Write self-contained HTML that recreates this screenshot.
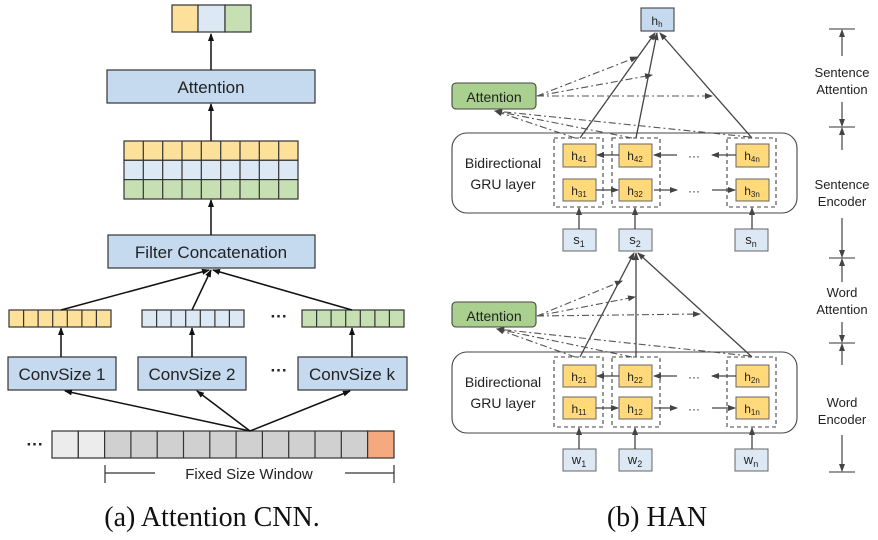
<!DOCTYPE html>
<html><head><meta charset="utf-8"><style>
html,body{margin:0;padding:0;background:#fff;}
svg{display:block;}
text{font-family:"Liberation Sans",sans-serif;fill:#222;}
.cap{font-family:"Liberation Serif",serif;font-size:28px;fill:#111;}
</style></head><body>
<svg width="878" height="540" viewBox="0 0 878 540" xmlns="http://www.w3.org/2000/svg">
<defs>
<marker id="a" markerWidth="8" markerHeight="8" refX="7" refY="4" orient="auto" markerUnits="userSpaceOnUse"><path d="M0,1 L8,4 L0,7 z" fill="#111"/></marker>
<marker id="g" markerWidth="8" markerHeight="8" refX="7" refY="4" orient="auto" markerUnits="userSpaceOnUse"><path d="M0,1 L8,4 L0,7 z" fill="#444"/></marker>
</defs>
<g stroke="#333" stroke-width="1.2">
<rect x="172" y="5" width="26" height="27" fill="#fde09a"/>
<rect x="198" y="5" width="27" height="27" fill="#dde8f5"/>
<rect x="225" y="5" width="26" height="27" fill="#c6e0b4"/>
<rect x="107" y="70" width="208" height="33" fill="#c5d9ef"/>
<rect x="124" y="141" width="174" height="19.3" fill="#fde09a"/>
<rect x="124" y="160.3" width="174" height="19.3" fill="#dde8f5"/>
<rect x="124" y="179.6" width="174" height="19.4" fill="#c6e0b4"/>
<path d="M143.3,141V199M162.7,141V199M182,141V199M201.3,141V199M220.7,141V199M240,141V199M259.3,141V199M278.7,141V199" fill="none"/>
<rect x="108" y="235" width="207" height="33" fill="#c5d9ef"/>
<rect x="9" y="310" width="102" height="17" fill="#fde09a"/>
<rect x="142" y="310" width="102" height="17" fill="#dde8f5"/>
<rect x="302" y="310" width="102" height="17" fill="#c6e0b4"/>
<path d="M23.6,310v17M38.1,310v17M52.7,310v17M67.3,310v17M81.9,310v17M96.4,310v17
M156.6,310v17M171.1,310v17M185.7,310v17M200.3,310v17M214.9,310v17M229.4,310v17
M316.6,310v17M331.1,310v17M345.7,310v17M360.3,310v17M374.9,310v17M389.4,310v17" fill="none"/>
<rect x="8" y="357" width="108" height="33" fill="#c5d9ef"/>
<rect x="138" y="357" width="108" height="33" fill="#c5d9ef"/>
<rect x="298" y="357" width="109" height="33" fill="#c5d9ef"/>
<rect x="52" y="431" width="26.3" height="27" fill="#ececec"/>
<rect x="78.3" y="431" width="26.3" height="27" fill="#ececec"/>
<rect x="104.6" y="431" width="263" height="27" fill="#d0d0d0"/>
<path d="M130.9,431v27M157.2,431v27M183.5,431v27M209.8,431v27M236.1,431v27M262.4,431v27M288.7,431v27M315,431v27M341.3,431v27" fill="none"/>
<rect x="367.6" y="431" width="26.4" height="27" fill="#f4a97f"/>
<path d="M105,465v18M394,465v18M105,473H155M345,473H394" fill="none"/>
</g>
<g stroke="#111" stroke-width="1.5" fill="none">
<path d="M211,70V34" marker-end="url(#a)"/>
<path d="M211,141V104" marker-end="url(#a)"/>
<path d="M211,235V200" marker-end="url(#a)"/>
<path d="M61,310L209,270" marker-end="url(#a)"/>
<path d="M192,310L211,270" marker-end="url(#a)"/>
<path d="M352,310L213,270" marker-end="url(#a)"/>
<path d="M61,357V328" marker-end="url(#a)"/>
<path d="M192,357V328" marker-end="url(#a)"/>
<path d="M352,357V328" marker-end="url(#a)"/>
<path d="M250,431L65,391" marker-end="url(#a)"/>
<path d="M250,431L197,391" marker-end="url(#a)"/>
<path d="M250,431L350,391" marker-end="url(#a)"/>
</g>
<g font-size="17" text-anchor="middle">
<text x="211" y="93">Attention</text>
<text x="211" y="258">Filter Concatenation</text>
<text x="62" y="380">ConvSize 1</text>
<text x="192" y="380">ConvSize 2</text>
<text x="352" y="380">ConvSize k</text>
<text x="279" y="376" font-weight="bold">···</text>
<text x="279" y="322" font-weight="bold">···</text>
<text x="35" y="450" font-weight="bold">···</text>
<text x="249" y="479" font-size="15">Fixed Size Window</text>
</g>
<text class="cap" x="212" y="526" text-anchor="middle">(a) Attention CNN.</text>

<g stroke="#444" stroke-width="1.1">
<rect x="641" y="8" width="33" height="23" fill="#c5d9ef"/>
<rect x="452" y="83" width="84" height="26" rx="4" fill="#a9d08e"/>
<rect x="452" y="133" width="345" height="80" rx="15" fill="#fff"/>
<rect x="452" y="302" width="84" height="25" rx="4" fill="#a9d08e"/>
<rect x="452" y="352" width="345" height="81" rx="15" fill="#fff"/>
</g>
<g stroke="#444" stroke-width="1.1" fill="none" stroke-dasharray="4,3">
<rect x="554" y="138" width="49" height="69"/><rect x="612" y="138" width="48" height="69"/><rect x="727" y="138" width="49" height="69"/>
<rect x="554" y="357" width="49" height="70"/><rect x="612" y="357" width="48" height="70"/><rect x="727" y="357" width="49" height="70"/>
</g>
<g stroke="#666" stroke-width="1" fill="#ffd97a">
<rect x="563" y="144" width="33" height="23"/><rect x="619" y="144" width="33" height="23"/><rect x="736" y="144" width="33" height="23"/>
<rect x="563" y="179" width="33" height="22"/><rect x="619" y="179" width="33" height="22"/><rect x="736" y="179" width="33" height="22"/>
<rect x="563" y="365" width="33" height="22"/><rect x="619" y="365" width="33" height="22"/><rect x="736" y="365" width="33" height="22"/>
<rect x="563" y="397" width="33" height="22"/><rect x="619" y="397" width="33" height="22"/><rect x="736" y="397" width="33" height="22"/>
</g>
<g stroke="#666" stroke-width="1" fill="#dde8f5">
<rect x="563" y="229" width="33" height="22"/><rect x="619" y="229" width="33" height="22"/><rect x="735" y="229" width="33" height="22"/>
<rect x="563" y="449" width="33" height="22"/><rect x="619" y="449" width="33" height="22"/><rect x="735" y="449" width="33" height="22"/>
</g>
<g stroke="#444" stroke-width="1.3" fill="none" marker-end="url(#g)">
<path d="M580,138L655,33"/>
<path d="M636,138L657,33"/>
<path d="M752,138L660,33"/>
<path d="M580,357L634,253"/>
<path d="M636,357V253"/>
<path d="M752,357L638,253"/>
<path d="M579,229V208"/><path d="M635,229V208"/><path d="M752,229V208"/>
<path d="M579,449V428"/><path d="M635,449V428"/><path d="M752,449V428"/>
<path d="M619,155H597"/><path d="M677,155H654"/><path d="M736,155H712"/>
<path d="M596,190H618"/><path d="M654,190H677"/><path d="M712,190H735"/>
<path d="M619,376H597"/><path d="M677,376H654"/><path d="M736,376H712"/>
<path d="M596,408H618"/><path d="M654,408H677"/><path d="M712,408H735"/>
</g>
<g stroke="#555" stroke-width="1.1" fill="none" stroke-dasharray="7,3,2,3" marker-end="url(#g)">
<path d="M537,96L637,57"/><path d="M537,96L652,75"/><path d="M537,96L712,96"/>
<path d="M575,138L495,111"/><path d="M632,138L495,111"/><path d="M750,137L495,111"/>
<path d="M537,316L622,281"/><path d="M537,316L635,297"/><path d="M537,316L700,314"/>
<path d="M575,357L497,329"/><path d="M632,357L497,329"/><path d="M750,356L497,329"/>
</g>
<g stroke="#333" stroke-width="1.1" fill="none">
<path d="M829,29H855M829,127H855M829,258H855M829,343H855M829,472H855"/>
</g>
<g stroke="#333" stroke-width="1.1" fill="none" marker-end="url(#g)">
<path d="M842,56V30"/><path d="M842,102V126"/><path d="M842,150V128"/><path d="M842,218V257"/>
<path d="M842,282V259"/><path d="M842,322V342"/><path d="M842,365V344"/><path d="M842,435V471"/>
</g>
<g font-size="13" text-anchor="middle" fill="#333">
<text x="842" y="77">Sentence</text><text x="842" y="94">Attention</text>
<text x="842" y="189">Sentence</text><text x="842" y="206">Encoder</text>
<text x="842" y="297">Word</text><text x="842" y="314">Attention</text>
<text x="842" y="407">Word</text><text x="842" y="424">Encoder</text>
</g>
<g font-size="14" text-anchor="middle">
<text x="494" y="102">Attention</text>
<text x="494" y="321">Attention</text>
<text x="503" y="168">Bidirectional</text><text x="503" y="189">GRU layer</text>
<text x="503" y="387">Bidirectional</text><text x="503" y="408">GRU layer</text>
<text x="694" y="160" font-size="12">···</text><text x="694" y="195" font-size="12">···</text>
<text x="694" y="381" font-size="12">···</text><text x="694" y="413" font-size="12">···</text>
</g>
<g font-size="12" text-anchor="middle">
<text x="657" y="25">h<tspan font-size="8" dy="2">h</tspan></text>
<text x="579" y="160">h<tspan font-size="8" dy="2">41</tspan></text>
<text x="635" y="160">h<tspan font-size="8" dy="2">42</tspan></text>
<text x="752" y="160">h<tspan font-size="8" dy="2">4n</tspan></text>
<text x="579" y="195">h<tspan font-size="8" dy="2">31</tspan></text>
<text x="635" y="195">h<tspan font-size="8" dy="2">32</tspan></text>
<text x="752" y="195">h<tspan font-size="8" dy="2">3n</tspan></text>
<text x="579" y="381">h<tspan font-size="8" dy="2">21</tspan></text>
<text x="635" y="381">h<tspan font-size="8" dy="2">22</tspan></text>
<text x="752" y="381">h<tspan font-size="8" dy="2">2n</tspan></text>
<text x="579" y="413">h<tspan font-size="8" dy="2">11</tspan></text>
<text x="635" y="413">h<tspan font-size="8" dy="2">12</tspan></text>
<text x="752" y="413">h<tspan font-size="8" dy="2">1n</tspan></text>
<text x="579" y="244" font-size="13">s<tspan font-size="9" dy="3">1</tspan></text>
<text x="635" y="244" font-size="13">s<tspan font-size="9" dy="3">2</tspan></text>
<text x="751" y="244" font-size="13">s<tspan font-size="9" dy="3">n</tspan></text>
<text x="579" y="464" font-size="13">w<tspan font-size="9" dy="3">1</tspan></text>
<text x="635" y="464" font-size="13">w<tspan font-size="9" dy="3">2</tspan></text>
<text x="751" y="464" font-size="13">w<tspan font-size="9" dy="3">n</tspan></text>
</g>
<text class="cap" x="657" y="526" text-anchor="middle">(b) HAN</text>
</svg>
</body></html>
